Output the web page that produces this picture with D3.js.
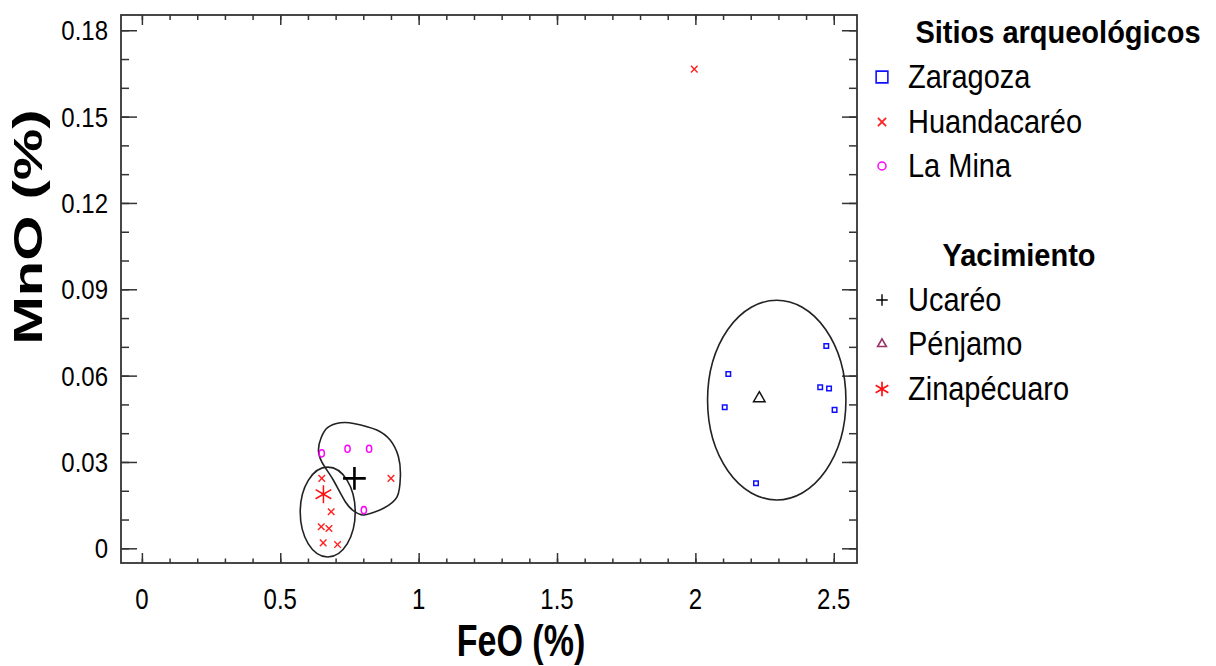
<!DOCTYPE html>
<html>
<head>
<meta charset="utf-8">
<script src="https://cdn.jsdelivr.net/npm/d3@7"></script>
<style>
  body { margin: 0; background: #fff; }
  svg { font-family: "Liberation Sans", Arial, sans-serif; }
</style>
</head>
<body>
<div id="chart"></div>
<script>
// values
const zaragozaFeO = [2.473, 2.119, 2.451, 2.483, 2.106, 2.503, 2.219];
const zaragozaMnO = [0.0703, 0.0606, 0.0560, 0.0555, 0.0490, 0.0481, 0.0226];

const huandaFeO = [1.996, 0.650, 0.900, 0.684, 0.648, 0.676, 0.655, 0.707];
const huandaMnO = [0.1665, 0.0243, 0.0243, 0.0127, 0.0075, 0.0069, 0.0019, 0.0013];

const laMinaFeO = [0.650, 0.743, 0.821, 0.802];
const laMinaMnO = [0.0330, 0.0346, 0.0346, 0.0133];

// yacimientos (group centroids)
const ucareo = [0.768, 0.0243];
const penjamo = [2.231, 0.0521];
const zinapecuaro = [0.656, 0.0188];

// confidence regions: [cx, cy, rx, ry] in data units
const penjamoEllipse = [2.294, 0.0515, 0.250, 0.0347];
const zinaEllipse = [0.6715, 0.0126, 0.0994, 0.0156];
// irregular region round the Ucaréo group (FeO, MnO)
const ucareoRegion = [
  [0.717, 0.0436], [0.765, 0.0434], [0.849, 0.0411], [0.897, 0.0376],
  [0.927, 0.0318], [0.934, 0.0249], [0.922, 0.0179], [0.873, 0.0139],
  [0.801, 0.0116], [0.765, 0.0130], [0.735, 0.0162], [0.690, 0.0240],
  [0.650, 0.0300], [0.638, 0.0340], [0.648, 0.0385], [0.672, 0.0420]
];

const xTicks = [0, 0.5, 1, 1.5, 2, 2.5];
const xTickLabels = ["0", "0.5", "1", "1.5", "2", "2.5"];
const yTicks = [0, 0.03, 0.06, 0.09, 0.12, 0.15, 0.18];
const yTickLabels = ["0", "0.03", "0.06", "0.09", "0.12", "0.15", "0.18"];

const sitios = ["Zaragoza", "Huandacaréo", "La Mina"];
const yacimientos = ["Ucaréo", "Pénjamo", "Zinapécuaro"];

const width = 1216;
const height = 666;
const box = { left: 121, right: 857, top: 15, bottom: 563 };

const svg = d3.select("#chart")
  .append("svg")
  .attr("width", width)
  .attr("height", height);

const x = d3.scaleLinear().domain([-0.0755, 2.584]).range([box.left, box.right]);
const y = d3.scaleLinear().domain([-0.0051, 0.1853]).range([box.bottom, box.top]);

const frameColor = "#333";

// ticks point inwards, on all four sides
const xMinor = d3.range(0, 2.55, 0.1);
const yMinor = d3.range(0, 0.185, 0.01);

function tickAxis(axisFn, scale, values, size, tr) {
  const g = svg.append("g")
    .attr("transform", tr)
    .call(axisFn(scale).tickValues(values).tickSize(-size).tickFormat(""));
  g.select(".domain").remove();
  g.selectAll("line").attr("stroke", frameColor).attr("stroke-width", 1.5);
}

tickAxis(d3.axisBottom, x, xMinor, 4.5, `translate(0,${box.bottom})`);
tickAxis(d3.axisBottom, x, xTicks, 10, `translate(0,${box.bottom})`);
tickAxis(d3.axisTop, x, xMinor, 5, `translate(0,${box.top})`);
tickAxis(d3.axisTop, x, xTicks, 10, `translate(0,${box.top})`);
tickAxis(d3.axisLeft, y, yMinor, 8, `translate(${box.left},0)`);
tickAxis(d3.axisLeft, y, yTicks, 16, `translate(${box.left},0)`);
tickAxis(d3.axisRight, y, yMinor, 8, `translate(${box.right},0)`);
tickAxis(d3.axisRight, y, yTicks, 15, `translate(${box.right},0)`);

svg.append("rect")
  .attr("x", box.left).attr("y", box.top)
  .attr("width", box.right - box.left).attr("height", box.bottom - box.top)
  .attr("fill", "none").attr("stroke", frameColor).attr("stroke-width", 1.8);

// stretched text helper (source text is drawn taller than it is wide)
function label(text, px, py, size, sx, sy, anchor, weight, rot) {
  return svg.append("text")
    .attr("transform", `translate(${px},${py}) rotate(${rot || 0}) scale(${sx},${sy})`)
    .attr("text-anchor", anchor)
    .attr("font-size", size)
    .attr("font-weight", weight || "normal")
    .attr("fill", "#000")
    .text(text);
}

xTicks.forEach((t, i) => label(xTickLabels[i], x(t), 609, 24, 1, 1.22, "middle"));
yTicks.forEach((t, i) => label(yTickLabels[i], 108, y(t) + 10, 24, 1, 1.15, "end"));

label("FeO (%)", 521, 656, 34, 1, 1.3, "middle", "bold");
label("MnO (%)", 42, 227, 40, 1.45, 1, "middle", "bold", -90);

// confidence regions
const lineColor = "#222";
[penjamoEllipse, zinaEllipse].forEach(e => {
  svg.append("ellipse")
    .attr("cx", x(e[0])).attr("cy", y(e[1]))
    .attr("rx", x(e[0] + e[2]) - x(e[0]))
    .attr("ry", y(e[1]) - y(e[1] + e[3]))
    .attr("fill", "none").attr("stroke", lineColor).attr("stroke-width", 1.6);
});

svg.append("path")
  .datum(ucareoRegion)
  .attr("d", d3.line().x(d => x(d[0])).y(d => y(d[1])).curve(d3.curveCardinalClosed.tension(0.2)))
  .attr("fill", "none").attr("stroke", lineColor).attr("stroke-width", 1.6);

// points
function points(feo, mno, type, size, color, sw) {
  svg.append("g").selectAll("path")
    .data(feo.map((v, i) => [v, mno[i]]))
    .join("path")
    .attr("transform", d => `translate(${x(d[0])},${y(d[1])})`)
    .attr("d", d3.symbol().type(type).size(size))
    .attr("fill", "none").attr("stroke", color).attr("stroke-width", sw);
}

points(zaragozaFeO, zaragozaMnO, d3.symbolSquare2, 26, "#1010ff", 1.5);
points(huandaFeO, huandaMnO, d3.symbolX, 30, "#ff2020", 1.4);

svg.append("g").selectAll("ellipse")
  .data(laMinaFeO.map((v, i) => [v, laMinaMnO[i]]))
  .join("ellipse")
  .attr("cx", d => x(d[0])).attr("cy", d => y(d[1]))
  .attr("rx", 2.6).attr("ry", 3.6)
  .attr("fill", "none").attr("stroke", "#ff00ff").attr("stroke-width", 1.5);

points([ucareo[0]], [ucareo[1]], d3.symbolPlus, 170, "#000", 2.6);
points([penjamo[0]], [penjamo[1]], d3.symbolTriangle2, 95, "#111", 1.5);
points([zinapecuaro[0]], [zinapecuaro[1]], d3.symbolAsterisk, 230, "#ff1010", 1.5);

// legend
const legX = 882;
label("Sitios arqueológicos", 1058, 43, 29, 1, 1.05, "middle", "bold");
label("Yacimiento", 1019, 266, 29, 1, 1.05, "middle", "bold");

const sitioY = [77, 122, 166];
const yacY = [300, 344, 389];
sitios.forEach((s, i) => label(s, 908, sitioY[i] + 11, 29, 1, 1.12, "start"));
yacimientos.forEach((s, i) => label(s, 908, yacY[i] + 11, 29, 1, 1.12, "start"));

const legSym = [
  { y: sitioY[0], type: d3.symbolSquare2, size: 175, color: "#1010ff", sw: 1.6 },
  { y: sitioY[1], type: d3.symbolX, size: 45, color: "#ff2020", sw: 1.8 },
  { y: sitioY[2], type: d3.symbolCircle, size: 50, color: "#ff00ff", sw: 1.5 },
  { y: yacY[0], type: d3.symbolPlus, size: 45, color: "#000", sw: 1.4 },
  { y: yacY[1], type: d3.symbolTriangle2, size: 55, color: "#993366", sw: 1.6 },
  { y: yacY[2], type: d3.symbolAsterisk, size: 150, color: "#ff1010", sw: 1.7 }
];
svg.append("g").selectAll("path")
  .data(legSym)
  .join("path")
  .attr("transform", d => `translate(${legX},${d.y})`)
  .attr("d", d => d3.symbol().type(d.type).size(d.size)())
  .attr("fill", "none")
  .attr("stroke", d => d.color)
  .attr("stroke-width", d => d.sw);
</script>
</body>
</html>
